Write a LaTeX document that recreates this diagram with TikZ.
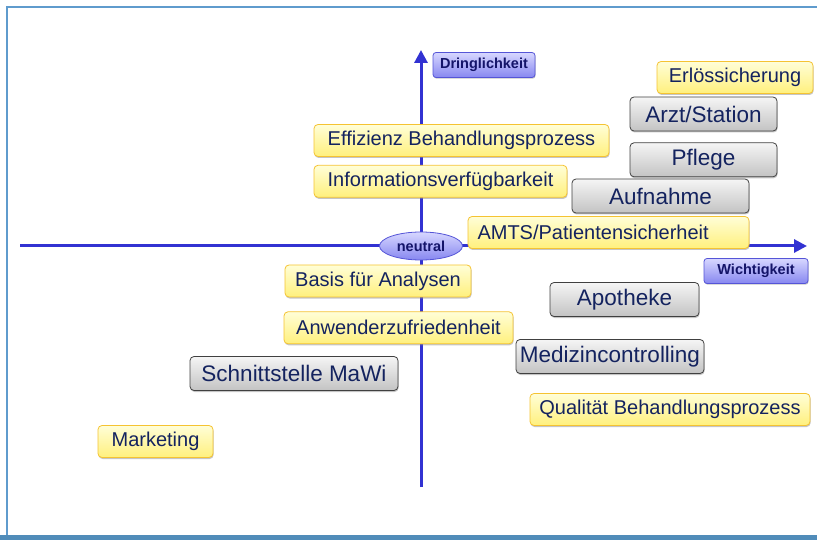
\documentclass[tikz,border=0pt]{standalone}
\usepackage{fontspec}
\setmainfont{Liberation Sans}
\usepackage{xcolor}
\usepackage{tikz}
\usetikzlibrary{shadows,shadings}
\usetikzlibrary{positioning, arrows.meta}
\usetikzlibrary{shapes,shapes.geometric}

\definecolor{textnavy}{RGB}{20,35,95}
\definecolor{axisblue}{RGB}{50,50,210}
\definecolor{framelight}{RGB}{95,155,205}
\definecolor{framedark}{RGB}{80,140,185}
\definecolor{yeltop}{RGB}{255,254,215}
\definecolor{yelbot}{RGB}{255,240,125}
\definecolor{yelborder}{RGB}{245,195,50}
\definecolor{graytop}{RGB}{245,245,245}
\definecolor{graybot}{RGB}{195,195,195}
\definecolor{labtop}{RGB}{215,215,255}
\definecolor{labbot}{RGB}{135,135,240}
\definecolor{labborder}{RGB}{85,85,215}

\tikzset{
	yelbox/.style={draw=yelborder, line width=0.8pt, rounded corners=4pt, top color=yeltop, bottom color=yelbot, text=textnavy, font=\fontsize{20}{24}\selectfont, minimum height=32pt, inner xsep=3pt, drop shadow={shadow xshift=0.6pt, shadow yshift=-1.5pt, fill=black!45}},
	graybox/.style={draw=black!75, line width=0.8pt, rounded corners=4pt, top color=graytop, bottom color=graybot, text=textnavy, font=\fontsize{22.5}{26}\selectfont, minimum height=34pt, inner xsep=3pt, drop shadow={shadow xshift=0.6pt, shadow yshift=-1.5pt, fill=black!45}},
	axislabel/.style={draw=labborder, line width=0.8pt, rounded corners=3pt, top color=labtop, bottom color=labbot, text={rgb,255:red,20;green,20;blue,105}, font=\fontsize{14.5}{17}\selectfont\bfseries, minimum height=25pt, inner xsep=2pt, drop shadow={shadow xshift=0.6pt, shadow yshift=-1.2pt, fill=black!45}},
	axis/.style={axisblue, line width=3pt, -{Triangle[length=13pt,width=13pt]}}
}

\begin{document}
\begin{tikzpicture}[x=1pt, y=-1pt, node distance=10pt]
		\useasboundingbox (0,0) rectangle (817,540);
		\fill[framedark] (0,535) rectangle (817,540);
		\draw[framelight, line width=2pt] (6.5,535) -- (6.5,7) -- (817,7);
		
		\coordinate (xstart) at (20,246);
		\coordinate (xend) at (807,246);
		\coordinate (ystart) at (421,487);
		\coordinate (yend) at (421,50);
		\draw[axis] (xstart) -- (xend);
		\draw[axis] (ystart) -- (yend);
		
		\node[ellipse, draw=labborder, line width=0.8pt, top color=labtop, bottom color=labbot, text={rgb,255:red,20;green,20;blue,105}, font=\fontsize{14.5}{17}\selectfont\bfseries, minimum width=83pt, minimum height=28pt, inner sep=0pt] (neutral) at (421,246) {neutral};
		\node[axislabel, minimum width=102pt] (dring) at (484,65) {Dringlichkeit};
		\node[axislabel, minimum width=104pt] (wicht) at (756,271) {Wichtigkeit};
		
		\node[yelbox, minimum width=156pt] (erloes) at (735,77.5) {Erlössicherung};
		\node[yelbox, minimum width=295pt] (effizienz) at (461.5,140.5) {Effizienz Behandlungsprozess};
		\node[yelbox, minimum width=253pt, below right=8pt and 0pt of effizienz.south west] (info) {Informationsverfügbarkeit};
		\node[yelbox, text width=262pt, align=left, inner xsep=9.5pt] (amts) at (608.5,232.5) {AMTS/Patientensicherheit};
		\node[yelbox, minimum width=186pt] (basis) at (378,281) {Basis für Analysen};
		\node[yelbox, minimum width=229pt, below right=14pt and -1pt of basis.south west] (anwender) {Anwenderzufriedenheit};
		\node[yelbox, minimum width=280pt] (qualitaet) at (670,409.5) {Qualität Behandlungsprozess};
		\node[yelbox, minimum width=115pt] (marketing) at (155.5,441.5) {Marketing};
		
		\node[graybox, minimum width=147pt] (arzt) at (703.5,114) {Arzt/Station};
		\node[graybox, minimum width=147pt, below=11pt of arzt] (pflege) {Pflege};
		\node[graybox, minimum width=177pt] (aufnahme) at (660.5,196) {Aufnahme};
		\node[graybox, minimum width=149pt] (apotheke) at (624.5,299.5) {Apotheke};
		\node[graybox, minimum width=188pt] (medizin) at (610,356.5) {Medizincontrolling};
		\node[graybox, minimum width=208pt] (mawi) at (294,373.5) {Schnittstelle MaWi};
	\end{tikzpicture}
\end{document}
